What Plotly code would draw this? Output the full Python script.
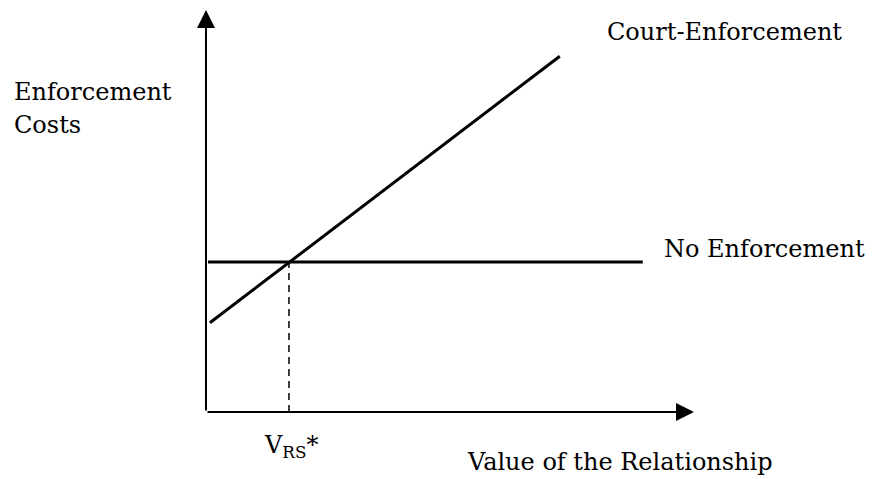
import plotly.graph_objects as go

# data (arbitrary units, origin at the corner of the two axes)
court_v = [0.08, 7.25]
court_cost = [2.22, 8.85]
none_v = [0.04, 8.95]
none_cost = [3.73, 3.73]
v_star = 1.70
cost_star = 3.73
axis_tip = 10

FONT = dict(family="DejaVu Serif", size=24, color="black")

fig = go.Figure()

fig.add_trace(go.Scatter(x=court_v, y=court_cost, mode="lines",
                         line=dict(color="black", width=3), hoverinfo="skip"))
fig.add_trace(go.Scatter(x=none_v, y=none_cost, mode="lines",
                         line=dict(color="black", width=3), hoverinfo="skip"))
fig.add_trace(go.Scatter(x=[v_star, v_star], y=[0, cost_star], mode="lines",
                         line=dict(color="black", width=1.5, dash="7px,5px"),
                         hoverinfo="skip"))

# axes with arrow heads
for tip in [(axis_tip, 0), (0, axis_tip)]:
    fig.add_annotation(x=tip[0], y=tip[1], ax=0, ay=0, xref="x", yref="y",
                       axref="x", ayref="y", text="", showarrow=True,
                       arrowhead=2, arrowsize=1.8, arrowwidth=2,
                       arrowcolor="black")

# labels placed in paper coordinates (some sit outside the plot area)
labels = [
    ("Enforcement", -0.3975, 0.796),
    ("Costs", -0.3975, 0.714),
    ("Court-Enforcement", 0.8176, 0.945),
    ("No Enforcement", 0.934, 0.405),
    ("V<sub>RS</sub>*", 0.115, -0.085),
    ("Value of the Relationship", 0.531, -0.124),
]
for txt, lx, ly in labels:
    fig.add_annotation(x=lx, y=ly, xref="paper", yref="paper", text=txt,
                       showarrow=False, xanchor="left", yanchor="middle",
                       font=FONT)

fig.update_xaxes(range=[0, 10], visible=False)
fig.update_yaxes(range=[0, 10], visible=False)
fig.update_layout(width=874, height=479, showlegend=False,
                  margin=dict(l=198, r=188, t=2, b=75),
                  plot_bgcolor="white", paper_bgcolor="white")

fig.write_html("out.html")
